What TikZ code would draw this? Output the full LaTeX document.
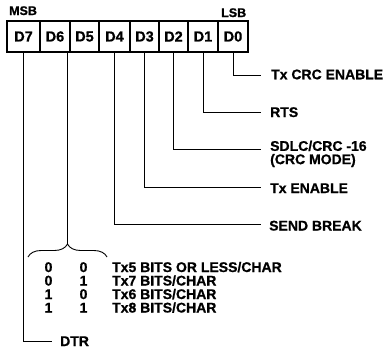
\documentclass[tikz,border=0pt]{standalone}
\usepackage{fontspec}
\setmainfont{Liberation Sans}[BoldFeatures={FakeBold=0.8}]
\usetikzlibrary{decorations.pathreplacing}
\begin{document}
\begin{tikzpicture}[x=1pt,y=-1pt,
  cell/.style={draw, line width=1.6pt, minimum height=31pt, inner sep=0pt, font=\fontsize{14.5}{15}\selectfont\bfseries},
  lbl/.style={anchor=base west, inner sep=0pt, font=\fontsize{14}{13.3}\selectfont\bfseries, align=left},
  hdr/.style={anchor=base west, inner sep=0pt, font=\fontsize{12.5}{13}\selectfont\bfseries},
  dig/.style={anchor=base, inner sep=0pt, font=\fontsize{14}{14}\selectfont\bfseries},
  conn/.style={line width=0.9pt}]
\useasboundingbox (0,0) rectangle (386,354);
% header
\node[hdr] (msb) at (9,15) {MSB};
\node[hdr] (lsb) at (221,17) {LSB};
% register cells
\node[cell, minimum width=33pt] (d7) at (23.5,36.5) {D7};
\node[cell, minimum width=30pt] (d6) at (55,36.5) {D6};
\node[cell, minimum width=29pt] (d5) at (84.5,36.5) {D5};
\node[cell, minimum width=31pt] (d4) at (114.5,36.5) {D4};
\node[cell, minimum width=29pt] (d3) at (144.5,36.5) {D3};
\node[cell, minimum width=29pt] (d2) at (173.5,36.5) {D2};
\node[cell, minimum width=30pt] (d1) at (203,36.5) {D1};
\node[cell, minimum width=30pt] (d0) at (233,36.5) {D0};
% labels
\node[lbl] (l0) at (271,79.3) {Tx CRC ENABLE};
\node[lbl] (l1) at (270,117) {RTS};
\node[lbl, anchor=north west] (l2) at (270,140.5) {SDLC/CRC -16\\(CRC MODE)};
\node[lbl] (l3) at (270,193) {Tx ENABLE};
\node[lbl] (l4) at (269,230.5) {SEND BREAK};
\node[lbl] (l5) at (60,346) {DTR};
% line ends
\coordinate (e0) at (261,75);
\coordinate (e1) at (261,112.7);
\coordinate (e2) at (261,149.3);
\coordinate (e3) at (261,187.3);
\coordinate (e4) at (261,224);
\coordinate (e5) at (52,341.7);
% connectors
\draw[conn] (d0.south) |- (e0);
\draw[conn] (d1.south) |- (e1);
\draw[conn] (d2.south) |- (e2);
\draw[conn] (d3.south) |- (e3);
\draw[conn] (d4.south) |- (e4);
\draw[conn] (d7.south) |- (e5);
% brace for D6 D5
\coordinate (bl) at (28,257);
\coordinate (br) at (107,257);
\coordinate (bt) at (67.5,244);
\draw[conn, decorate, decoration={brace, amplitude=13pt}] (bl) -- (br);
\draw[conn] (bt) -- (bt |- d6.south);
% table
\node[dig] (r1a) at (48.5,272) {0};
\node[dig] (r1b) at (83.5,272) {0};
\node[lbl] (r1t) at (112,272) {Tx5 BITS OR LESS/CHAR};
\node[dig] (r2a) at (48.5,285.5) {0};
\node[dig] (r2b) at (83.5,285.5) {1};
\node[lbl] (r2t) at (112,285.5) {Tx7 BITS/CHAR};
\node[dig] (r3a) at (48.5,299) {1};
\node[dig] (r3b) at (83.5,299) {0};
\node[lbl] (r3t) at (112,299) {Tx6 BITS/CHAR};
\node[dig] (r4a) at (48.5,312.5) {1};
\node[dig] (r4b) at (83.5,312.5) {1};
\node[lbl] (r4t) at (112,312.5) {Tx8 BITS/CHAR};
\end{tikzpicture}
\end{document}
